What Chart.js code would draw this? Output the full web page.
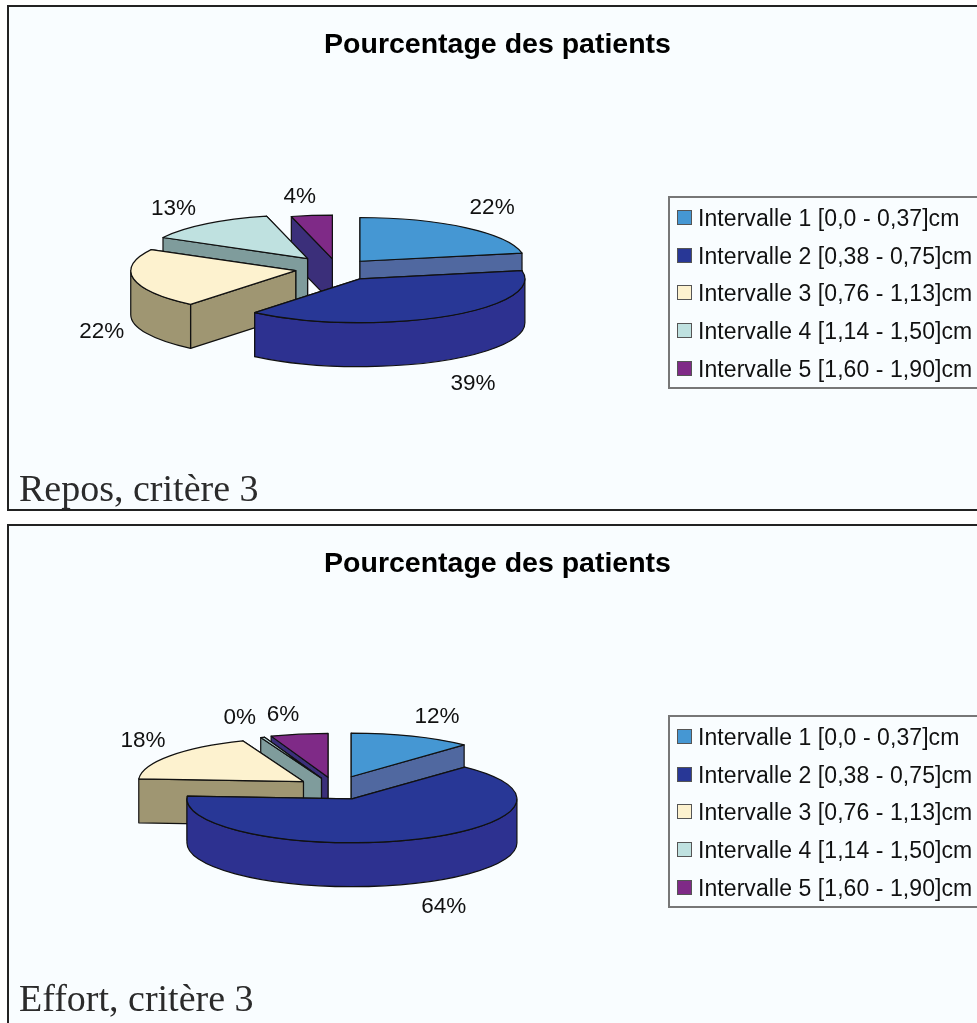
<!DOCTYPE html>
<html>
<head>
<meta charset="utf-8">
<script src="https://cdn.jsdelivr.net/npm/chart.js@4"></script>
<style>
  html, body { margin: 0; padding: 0; background: #fff; overflow: hidden; width: 977px; height: 1023px; }
  .frame { position: absolute; left: 7px; width: 990px; border: 2px solid #222; box-sizing: border-box; background: #f9fdff; }
  canvas { position: absolute; left: 7px; }
  .legend { position: absolute; left: 668px; width: 340px; height: 193px; border: 2px solid #777; box-sizing: border-box; }
  .legend div { position: absolute; left: 28px; font: 23px "Liberation Sans", Arial, sans-serif; letter-spacing: 0.07px; white-space: nowrap; color: #111; line-height: 24px; }
  .legend i { position: absolute; left: -21px; top: 4px; width: 15px; height: 15px; border: 1px solid #555; box-sizing: border-box; }
  .caption { position: absolute; left: 19px; font: 38px "Liberation Serif", "Times New Roman", serif; color: #2b2b2b; line-height: 40px; white-space: nowrap; }
</style>
</head>
<body>
<div class="frame" style="top:5px;height:506px"></div>
<div class="frame" style="top:524px;height:520px"></div>
<canvas id="reposChart" width="981" height="510" style="top:0"></canvas>
<canvas id="effortChart" width="981" height="504" style="top:519px"></canvas>
<div class="legend" id="reposLegend" style="top:196px"></div>
<div class="legend" id="effortLegend" style="top:715px"></div>
<div class="caption" style="top:468px">Repos, critère 3</div>
<div class="caption" style="top:978px">Effort, critère 3</div>

<script>
const categories = ['Intervalle 1 [0,0 - 0,37]cm', 'Intervalle 2 [0,38 - 0,75]cm', 'Intervalle 3 [0,76 - 1,13]cm', 'Intervalle 4 [1,14 - 1,50]cm', 'Intervalle 5 [1,60 - 1,90]cm'];
const reposValues = [22, 39, 22, 13, 4];
const effortValues = [12, 64, 18, 0.4, 5.6];
const chartTitle = 'Pourcentage des patients';

const topColors = ['#4597d3', '#283796', '#fdf2cf', '#bfe1e0', '#7f2a87'];
const wallColors = ['#5068a0', '#2d3190', '#9f9672', '#7f9c9c', '#3b2f7a'];

// squash and extrusion of the fake 3d pie
const TILT = 0.265;
const DEPTH = 44;
const RADIUS = 165;

function slicePath(ctx, x, y, r, a0, a1) {
  ctx.beginPath();
  ctx.moveTo(x, y);
  ctx.ellipse(x, y, r, r * TILT, 0, a0, a1);
  ctx.closePath();
}

function fillStroke(ctx, color) {
  ctx.fillStyle = color;
  ctx.fill();
  ctx.stroke();
}

const pie3d = {
  id: 'pie3d',
  beforeDatasetsDraw(chart, args, opts) {
    const ctx = chart.ctx;
    const arcs = chart.getDatasetMeta(0).data;
    const pos = arcs.map(function (arc) {
      const mid = (arc.startAngle + arc.endAngle) / 2;
      const off = arc.options.offset;
      return {
        arc: arc,
        mid: mid,
        x: arc.x + opts.shiftX + Math.cos(mid) * off,
        y: arc.y + Math.sin(mid) * off * TILT
      };
    });

    // back to front, the lower slices paint over the walls of the others
    const order = pos.map(function (p, i) { return i; }).sort(function (a, b) {
      return Math.sin(pos[a].mid) - Math.sin(pos[b].mid);
    });

    ctx.save();
    ctx.lineWidth = 1.2;
    ctx.strokeStyle = '#111';
    ctx.lineJoin = 'round';
    order.forEach(function (i) {
      const p = pos[i];
      const r = p.arc.outerRadius;
      const a0 = p.arc.startAngle;
      const a1 = p.arc.endAngle;
      const wall = wallColors[i];

      // cut faces, the one further back first
      const faces = Math.sin(a0) < Math.sin(a1) ? [a0, a1] : [a1, a0];
      faces.forEach(function (a) {
        const ex = p.x + Math.cos(a) * r;
        const ey = p.y + Math.sin(a) * r * TILT;
        ctx.beginPath();
        ctx.moveTo(p.x, p.y);
        ctx.lineTo(ex, ey);
        ctx.lineTo(ex, ey + DEPTH);
        ctx.lineTo(p.x, p.y + DEPTH);
        ctx.closePath();
        fillStroke(ctx, wall);
      });

      // outer wall, only the front half shows
      const from = Math.max(a0, 0);
      const to = Math.min(a1, Math.PI);
      if (to > from) {
        ctx.beginPath();
        ctx.ellipse(p.x, p.y, r, r * TILT, 0, from, to);
        ctx.ellipse(p.x, p.y + DEPTH, r, r * TILT, 0, to, from, true);
        ctx.closePath();
        fillStroke(ctx, wall);
      }

      slicePath(ctx, p.x, p.y, r, a0, a1);
      fillStroke(ctx, topColors[i]);
    });

    // percentage labels, placed from the rim point of each slice
    const values = chart.data.datasets[0].data;
    ctx.fillStyle = '#111';
    ctx.font = '22.5px "Liberation Sans", Arial, sans-serif';
    ctx.textAlign = 'center';
    ctx.textBaseline = 'middle';
    pos.forEach(function (p, i) {
      const r = p.arc.outerRadius;
      const lx = p.x + Math.cos(p.mid) * r + opts.labelNudge[i][0];
      const ly = p.y + Math.sin(p.mid) * r * TILT + opts.labelNudge[i][1];
      ctx.fillText(Math.round(values[i]) + '%', lx, ly);
    });
    ctx.restore();
    return false;
  }
};

function makePie(id, values, offsets, shiftX, padBottom, labelNudge) {
  const ctx = document.getElementById(id).getContext('2d');
  return new Chart(ctx, {
    type: 'pie',
    data: {
      labels: categories,
      datasets: [{
        data: values,
        backgroundColor: topColors,
        borderWidth: 0,
        offset: offsets
      }]
    },
    options: {
      responsive: false,
      animation: false,
      radius: RADIUS,
      layout: { padding: { bottom: padBottom } },
      plugins: {
        legend: { display: false },
        tooltip: { enabled: false },
        title: {
          display: true,
          text: chartTitle,
          color: '#000',
          font: { family: '"Liberation Sans", Arial, sans-serif', size: 28.5, weight: 'bold' },
          padding: { top: 28, bottom: 10 }
        },
        pie3d: { labelNudge: labelNudge, shiftX: shiftX }
      }
    },
    plugins: [pie3d]
  });
}

function makeLegend(id) {
  const box = document.getElementById(id);
  categories.forEach(function (name, i) {
    const row = document.createElement('div');
    row.style.top = (8 + i * 37.7) + 'px';
    row.textContent = name;
    const sw = document.createElement('i');
    sw.style.background = topColors[i];
    row.appendChild(sw);
    box.appendChild(row);
  });
}

makePie('reposChart', reposValues, [36, 45, 42, 48, 37], -160.5, 45,
  [[27, -20], [29, 67], [-32, 53], [-33, -15], [-12, -19]]);
makePie('effortChart', effortValues, [44, 46, 39, 38, 40], -162.5, 39,
  [[25, -19], [31, 67], [-27, -15], [-23, -20], [-16, -19]]);
makeLegend('reposLegend');
makeLegend('effortLegend');
</script>
</body>
</html>
